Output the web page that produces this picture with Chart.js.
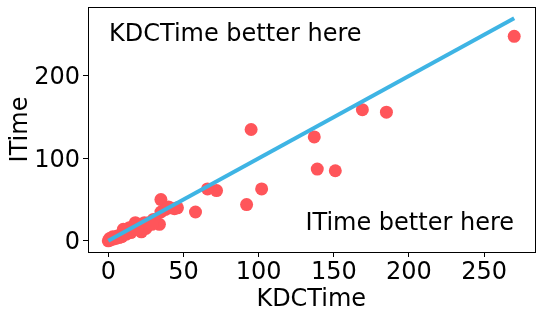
<!DOCTYPE html>
<html>
<head>
<meta charset="utf-8">
<script src="https://cdn.jsdelivr.net/npm/chart.js@4.4.1/dist/chart.umd.min.js"></script>
<style>
html,body{margin:0;padding:0;background:#fff;}
#wrap{width:541px;height:318px;position:relative;}
</style>
</head>
<body>
<div id="wrap"><canvas id="c" width="541" height="318"></canvas></div>
<script>
const kdcTime = [270,169,185,95,137,139,151,102,92,72,66,58,46,41,35,34,35,30,25,22,24,20,18,16,14,12,10,10,8,6,5,4,3,2,1,0,1,3,7,9,12,15,19,27,29,38,40,44];
const iTime   = [248,159,156,135,126,87,85,63,44,61,63,35,40,40,50,20,35,26,15,11,22,19,22,17,16,13,14,8,7,6,3,4,2,2,1,0,3,5,4,5,8,10,14,22,20,38,41,39];
const diagonal = [0, 270];
const xTicks = [0,50,100,150,200,250];
const yTicks = [0,100,200];
const xLabel = 'KDCTime';
const yLabel = 'ITime';
const notes = ['KDCTime better here','ITime better here'];

const FONT = "'DejaVu Sans', sans-serif";
const pts = kdcTime.map((x,i)=>({x:x, y:iTime[i]}));
const linePts = diagonal.map(v=>({x:v,y:v}));

const framePlugin = {
  id:'frame',
  afterDraw(chart){
    const {ctx, chartArea:a} = chart;
    ctx.save();
    ctx.strokeStyle = '#000';
    ctx.lineWidth = 1;
    ctx.strokeRect(Math.round(a.left)+0.5, Math.round(a.top)+0.5, Math.round(a.right-a.left), Math.round(a.bottom-a.top));
    ctx.fillStyle = '#000';
    ctx.font = "24px " + FONT;
    ctx.textBaseline = 'alphabetic';
    ctx.textAlign = 'left';
    ctx.fillText(notes[0], 109, 41);
    ctx.textAlign = 'right';
    ctx.fillText(notes[1], 514, 230);
    ctx.restore();
  }
};

function noPad(s){ s.paddingTop = 0; s.paddingBottom = 0; s.paddingLeft = 0; s.paddingRight = 0; }

new Chart(document.getElementById('c'), {
  type:'scatter',
  data:{
    datasets:[
      {type:'line', data:linePts, borderColor:'rgb(62,180,228)', borderWidth:4, pointRadius:0, order:0},
      {data:pts, backgroundColor:'rgb(255,85,90)', borderWidth:0, pointRadius:6.5, pointHoverRadius:6.5, order:1}
    ]
  },
  options:{
    responsive:false,
    animation:false,
    events:[],
    layout:{padding:{top:7,right:6,left:0,bottom:0}},
    plugins:{legend:{display:false}, tooltip:{enabled:false}},
    scales:{
      x:{
        type:'linear', min:-13.5, max:283.5,
        afterBuildTicks(s){ s.ticks = xTicks.map(v=>({value:v})); },
        afterFit(s){ s.height = 66; noPad(s); },
        grid:{display:true, drawOnChartArea:false, drawTicks:true, tickLength:5, color:'#000'},
        border:{display:true, color:'#000'},
        ticks:{color:'#000', font:{family:FONT, size:24}, padding:1, maxRotation:0, autoSkip:false},
        title:{display:true, text:xLabel, color:'#000', font:{family:FONT, size:24}, padding:{top:0,bottom:4}}
      },
      y:{
        type:'linear', min:-13.5, max:283.5,
        afterBuildTicks(s){ s.ticks = yTicks.map(v=>({value:v})); },
        afterFit(s){ s.width = 88; noPad(s); },
        grid:{display:true, drawOnChartArea:false, drawTicks:true, tickLength:5, color:'#000'},
        border:{display:true, color:'#000'},
        ticks:{color:'#000', font:{family:FONT, size:24}, padding:3, labelOffset:2, autoSkip:false},
        title:{display:true, text:yLabel, color:'#000', font:{family:FONT, size:24}, padding:{top:6,bottom:0}}
      }
    }
  },
  plugins:[framePlugin]
});
</script>
</body>
</html>
